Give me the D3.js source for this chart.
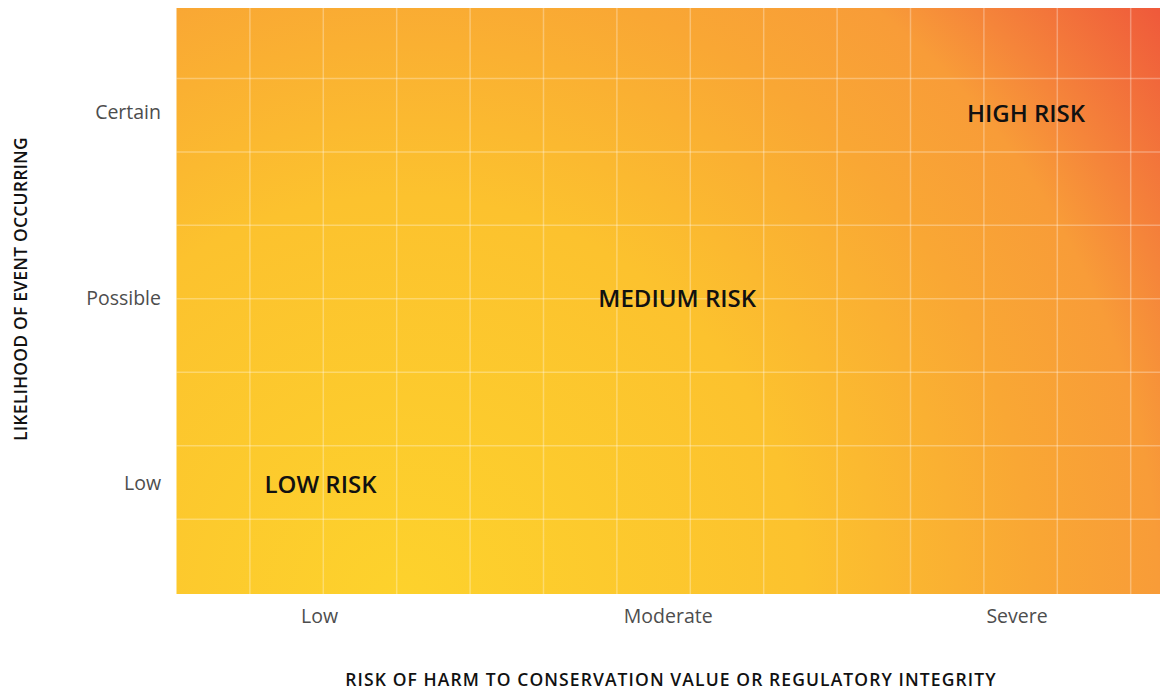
<!DOCTYPE html>
<html lang="en">
<head>
    <meta charset="utf-8" />
    <style>
        body { margin: 0; background: #fff; }
        svg { display: block; font-family: "Open Sans", sans-serif; }
        .grid line { stroke: #fff; stroke-opacity: 0.3; stroke-width: 1.5px; }
        .tick-label { fill: #4d4d4d; font-size: 19.5px; }
        .risk-label { fill: #111; font-size: 24px; font-weight: 600; }
        .axis-title { fill: #111; font-size: 17.5px; font-weight: 600; }
    </style>
</head>
<body>
<svg width="1160" height="691"></svg>
<script src="https://cdn.jsdelivr.net/npm/d3@7"></script>
<script>

    var harmLevels = ["Low", "Moderate", "Severe"],
        likelihoodLevels = ["Low", "Possible", "Certain"],
        riskZones = [
            { label: "LOW RISK", harm: "Low", likelihood: "Low" },
            { label: "MEDIUM RISK", harm: "Moderate", likelihood: "Possible" },
            { label: "HIGH RISK", harm: "Severe", likelihood: "Certain" }
        ],
        gridColumns = d3.range(1, 14),
        gridRows = d3.range(1, 8),
        xTitle = "RISK OF HARM TO CONSERVATION VALUE OR REGULATORY INTEGRITY",
        yTitle = "LIKELIHOOD OF EVENT OCCURRING";

    var plotLeft = 176.5, plotTop = 8, plotRight = 1160, plotBottom = 594;

    var svg = d3.select("svg");

    var x = d3.scalePoint().domain(harmLevels).range([plotLeft, plotRight]).padding(0.41),
        y = d3.scalePoint().domain(likelihoodLevels).range([plotBottom - 3, plotTop - 3]).padding(0.58),
        gx = d3.scaleLinear().domain([0, 1]).range([plotLeft, plotLeft + 73.4]),
        gy = d3.scaleLinear().domain([0, 8]).range([592.6, 5]);

    // background gradient, yellow at bottom left fading to red at top right
    var grad = svg.append("defs").append("radialGradient")
        .attr("id", "heat")
        .attr("gradientUnits", "userSpaceOnUse")
        .attr("cx", 400).attr("cy", 600).attr("r", 960);

    grad.selectAll("stop")
        .data([
            [0, "#fdd22c"],
            [0.42, "#fcc22e"],
            [0.66, "#f9a734"],
            [0.79, "#f89c38"],
            [0.86, "#f5853a"],
            [1, "#ef5a3b"]
        ])
        .enter().append("stop")
        .attr("offset", function(d) { return d[0]; })
        .attr("stop-color", function(d) { return d[1]; });

    svg.append("rect")
        .attr("x", plotLeft).attr("y", plotTop)
        .attr("width", plotRight - plotLeft).attr("height", plotBottom - plotTop)
        .attr("fill", "url(#heat)");

    var grid = svg.append("g").attr("class", "grid");

    grid.selectAll(".v")
        .data(gridColumns)
        .enter().append("line")
        .attr("x1", gx).attr("x2", gx)
        .attr("y1", plotTop).attr("y2", plotBottom);

    grid.selectAll(".h")
        .data(gridRows)
        .enter().append("line")
        .attr("x1", plotLeft).attr("x2", plotRight)
        .attr("y1", gy).attr("y2", gy);

    svg.selectAll(".xt")
        .data(harmLevels)
        .enter().append("text")
        .attr("class", "tick-label")
        .attr("x", x)
        .attr("y", 623)
        .attr("text-anchor", "middle")
        .text(function(d) { return d; });

    svg.selectAll(".yt")
        .data(likelihoodLevels)
        .enter().append("text")
        .attr("class", "tick-label")
        .attr("x", 161)
        .attr("y", y)
        .attr("dy", "0.35em")
        .attr("text-anchor", "end")
        .text(function(d) { return d; });

    svg.selectAll(".risk-label")
        .data(riskZones)
        .enter().append("text")
        .attr("class", "risk-label")
        .attr("x", function(d) { return x(d.harm) + (d.harm === "Low" ? 1 : 9); })
        .attr("y", function(d) { return y(d.likelihood) + 1; })
        .attr("dy", "0.35em")
        .attr("text-anchor", "middle")
        .text(function(d) { return d.label; });

    svg.append("text")
        .attr("class", "axis-title")
        .attr("x", 671).attr("y", 686)
        .attr("text-anchor", "middle")
        .attr("letter-spacing", 1.1)
        .text(xTitle);

    svg.append("text")
        .attr("class", "axis-title")
        .attr("transform", "translate(27,289) rotate(-90)")
        .attr("text-anchor", "middle")
        .attr("letter-spacing", 0.2)
        .text(yTitle);

</script>
</body>
</html>
